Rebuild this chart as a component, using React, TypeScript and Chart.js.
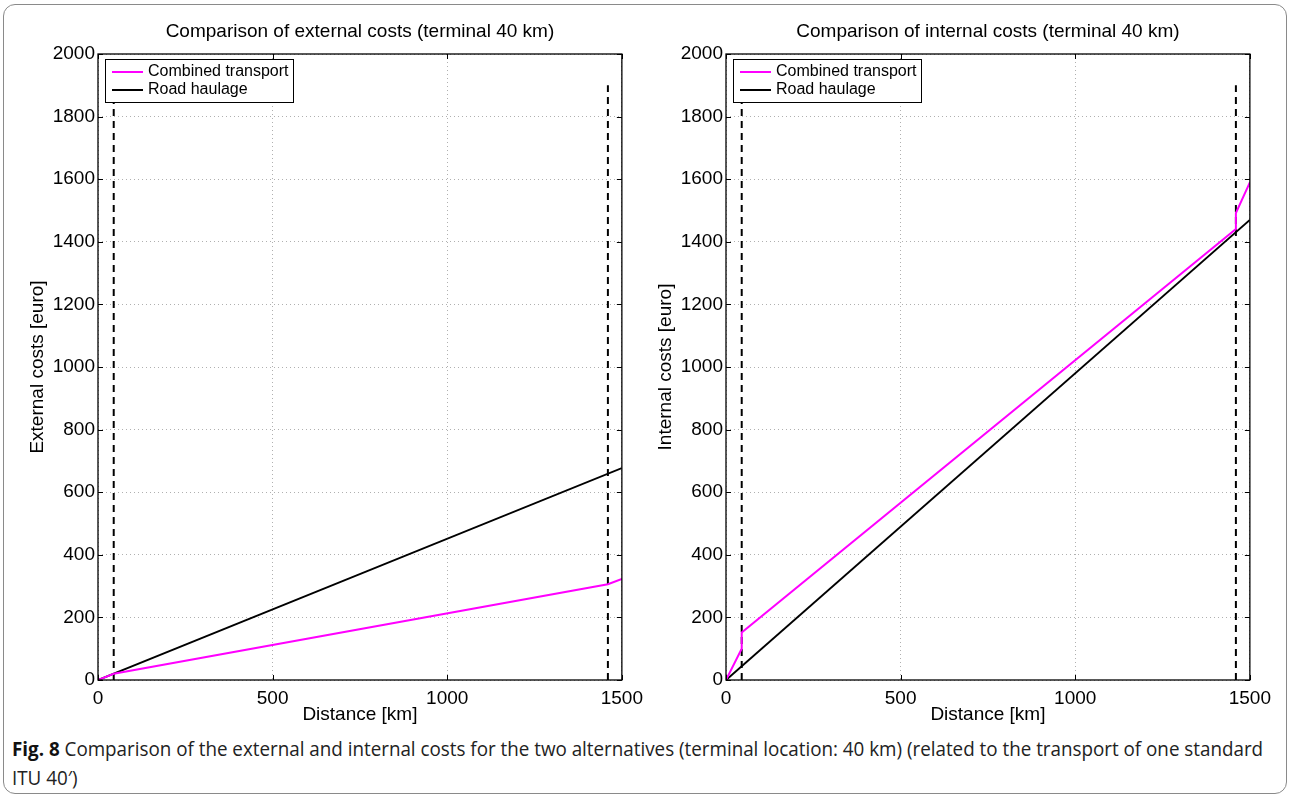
import React, { useEffect, useRef } from "react";
import { Chart, registerables } from "chart.js";

Chart.register(...registerables);

// ---- data ----
const xTicks = [0, 500, 1000, 1500];
const yTicks = [0, 200, 400, 600, 800, 1000, 1200, 1400, 1600, 1800, 2000];
const terminalX = [45, 1460];
const terminalY = [0, 1900];

const combinedExtX = [0, 45, 1460, 1500];
const combinedExtY = [0, 20, 306, 323];
const roadExtX = [0, 1500];
const roadExtY = [0, 677];

const combinedIntX = [0, 45, 45, 1460, 1460, 1500];
const combinedIntY = [0, 100, 152, 1441, 1492, 1590];
const roadIntX = [0, 1500];
const roadIntY = [0, 1470];

const seriesLabels = ["Combined transport", "Road haulage"];
const seriesColors = ["#ff00ff", "#000000"];

const FONT = "'Liberation Sans', Arial, Helvetica, sans-serif";

const zip = (xs: number[], ys: number[]) => xs.map((x, i) => ({ x, y: ys[i] }));

const decorPlugin = {
  id: "decor",
  afterDatasetsDraw(chart: any, _args: any, opts: any) {
    const { ctx, chartArea } = chart;
    const { left, right, top, bottom } = chartArea;
    const xs = chart.scales.x;
    const ys = chart.scales.y;
    ctx.save();
    // box
    ctx.strokeStyle = "#000";
    ctx.lineWidth = 1.3;
    ctx.strokeRect(left, top, right - left, bottom - top);
    // inward ticks
    ctx.lineWidth = 1;
    ctx.beginPath();
    yTicks.forEach((v) => {
      const p = Math.round(ys.getPixelForValue(v)) + 0.5;
      ctx.moveTo(left, p);
      ctx.lineTo(left + 5, p);
      ctx.moveTo(right, p);
      ctx.lineTo(right - 5, p);
    });
    xTicks.forEach((v) => {
      const p = Math.round(xs.getPixelForValue(v)) + 0.5;
      ctx.moveTo(p, bottom);
      ctx.lineTo(p, bottom - 5);
      ctx.moveTo(p, top);
      ctx.lineTo(p, top + 5);
    });
    ctx.stroke();

    // legend
    const lx = left + opts.legendDx;
    const ly = top + 5;
    const lw = opts.legendW;
    const lh = 43;
    ctx.fillStyle = "#fff";
    ctx.fillRect(lx, ly, lw, lh);
    ctx.strokeStyle = "#000";
    ctx.lineWidth = 1;
    ctx.strokeRect(lx + 0.5, ly + 0.5, lw, lh);
    ctx.font = `16px ${FONT}`;
    ctx.textBaseline = "middle";
    ctx.textAlign = "left";
    seriesLabels.forEach((lab, i) => {
      const yy = ly + 13 + i * 18;
      ctx.strokeStyle = seriesColors[i];
      ctx.lineWidth = 2;
      ctx.beginPath();
      ctx.moveTo(lx + 7, yy);
      ctx.lineTo(lx + 38, yy);
      ctx.stroke();
      ctx.fillStyle = "#000";
      ctx.fillText(lab, lx + 43, yy);
    });

    // titles
    ctx.fillStyle = "#000";
    ctx.font = `19px ${FONT}`;
    ctx.textAlign = "center";
    ctx.textBaseline = "middle";
    const cx = (left + right) / 2;
    ctx.fillText(opts.title, cx, 32);
    ctx.fillText("Distance [km]", cx, bottom + 35);
    ctx.save();
    ctx.translate(left - 60, (top + bottom) / 2);
    ctx.rotate(-Math.PI / 2);
    ctx.fillText(opts.yTitle, 0, 0);
    ctx.restore();
    ctx.restore();
  },
};

function makeConfig(
  title: string,
  yTitle: string,
  combined: { x: number; y: number }[],
  road: { x: number; y: number }[],
  legendW: number
): any {
  const dashed = (x: number) => ({
    label: "terminal",
    data: zip([x, x], terminalY),
    borderColor: "#000",
    borderWidth: 2,
    borderDash: [7, 5],
    pointRadius: 0,
    fill: false,
  });
  return {
    type: "line",
    data: {
      datasets: [
        {
          label: seriesLabels[0],
          data: combined,
          borderColor: seriesColors[0],
          borderWidth: 2,
          pointRadius: 0,
          fill: false,
        },
        {
          label: seriesLabels[1],
          data: road,
          borderColor: seriesColors[1],
          borderWidth: 2,
          pointRadius: 0,
          fill: false,
        },
        dashed(terminalX[0]),
        dashed(terminalX[1]),
      ],
    },
    options: {
      animation: false,
      responsive: false,
      maintainAspectRatio: false,
      layout: { padding: { top: 54, right: 27, left: 0, bottom: 0 } },
      plugins: {
        legend: { display: false },
        tooltip: { enabled: false },
        title: { display: false },
        decor: { title, yTitle, legendDx: 7, legendW },
      },
      scales: {
        x: {
          type: "linear",
          min: 0,
          max: 1500,
          afterBuildTicks: (s: any) => {
            s.ticks = xTicks.map((v) => ({ value: v }));
          },
          afterFit: (s: any) => {
            s.height = 50;
          },
          grid: {
            color: "#b0b0b0",
            lineWidth: 1,
            drawTicks: false,
          },
          border: { display: false, dash: [1, 3] },
          ticks: {
            color: "#000",
            font: { family: FONT, size: 19 },
            padding: 7,
            maxRotation: 0,
            autoSkip: false,
            callback: (v: any) => String(v),
          },
        },
        y: {
          type: "linear",
          min: 0,
          max: 2000,
          afterBuildTicks: (s: any) => {
            s.ticks = yTicks.map((v) => ({ value: v }));
          },
          afterFit: (s: any) => {
            s.width = 98;
          },
          grid: {
            color: "#b0b0b0",
            lineWidth: 1,
            drawTicks: false,
          },
          border: { display: false, dash: [1, 3] },
          ticks: {
            color: "#000",
            font: { family: FONT, size: 19 },
            padding: 3,
            autoSkip: false,
            callback: (v: any) => String(v),
          },
        },
      },
    },
  };
}

function ChartBox(props: { left: number; cfg: any }) {
  const ref = useRef<HTMLCanvasElement>(null);
  useEffect(() => {
    if (!ref.current) return;
    const c = new Chart(ref.current, { ...props.cfg, plugins: [decorPlugin] });
    return () => c.destroy();
  }, []);
  return (
    <canvas
      ref={ref}
      width={650}
      height={730}
      style={{ position: "absolute", left: props.left, top: 0, width: 650, height: 730 }}
    />
  );
}

export default function App() {
  const leftCfg = makeConfig(
    "Comparison of external costs (terminal 40 km)",
    "External costs [euro]",
    zip(combinedExtX, combinedExtY),
    zip(roadExtX, roadExtY),
    188
  );
  const rightCfg = makeConfig(
    "Comparison of internal costs (terminal 40 km)",
    "Internal costs [euro]",
    zip(combinedIntX, combinedIntY),
    zip(roadIntX, roadIntY),
    188
  );
  return (
    <div
      style={{
        position: "absolute",
        left: 0,
        top: 0,
        width: 1290,
        height: 796,
        background: "#fff",
        overflow: "hidden",
      }}
    >
      <div
        style={{
          position: "absolute",
          left: 3,
          top: 4,
          width: 1282,
          height: 788,
          border: "1px solid #8a8a8a",
          borderRadius: 12,
        }}
      />
      <ChartBox left={0} cfg={leftCfg} />
      <ChartBox left={628} cfg={rightCfg} />
      <div
        style={{
          position: "absolute",
          left: 12,
          top: 734,
          fontFamily: "'Open Sans', sans-serif",
          fontSize: 20,
          lineHeight: "29px",
          color: "#222",
          whiteSpace: "nowrap",
          transformOrigin: "0 0",
          transform: "scaleX(0.94)",
        }}
      >
        <div>
          <b style={{ color: "#111" }}>Fig. 8</b> Comparison of the external and internal costs for the two
          alternatives (terminal location: 40 km) (related to the transport of one standard
        </div>
        <div>ITU 40′)</div>
      </div>
    </div>
  );
}
